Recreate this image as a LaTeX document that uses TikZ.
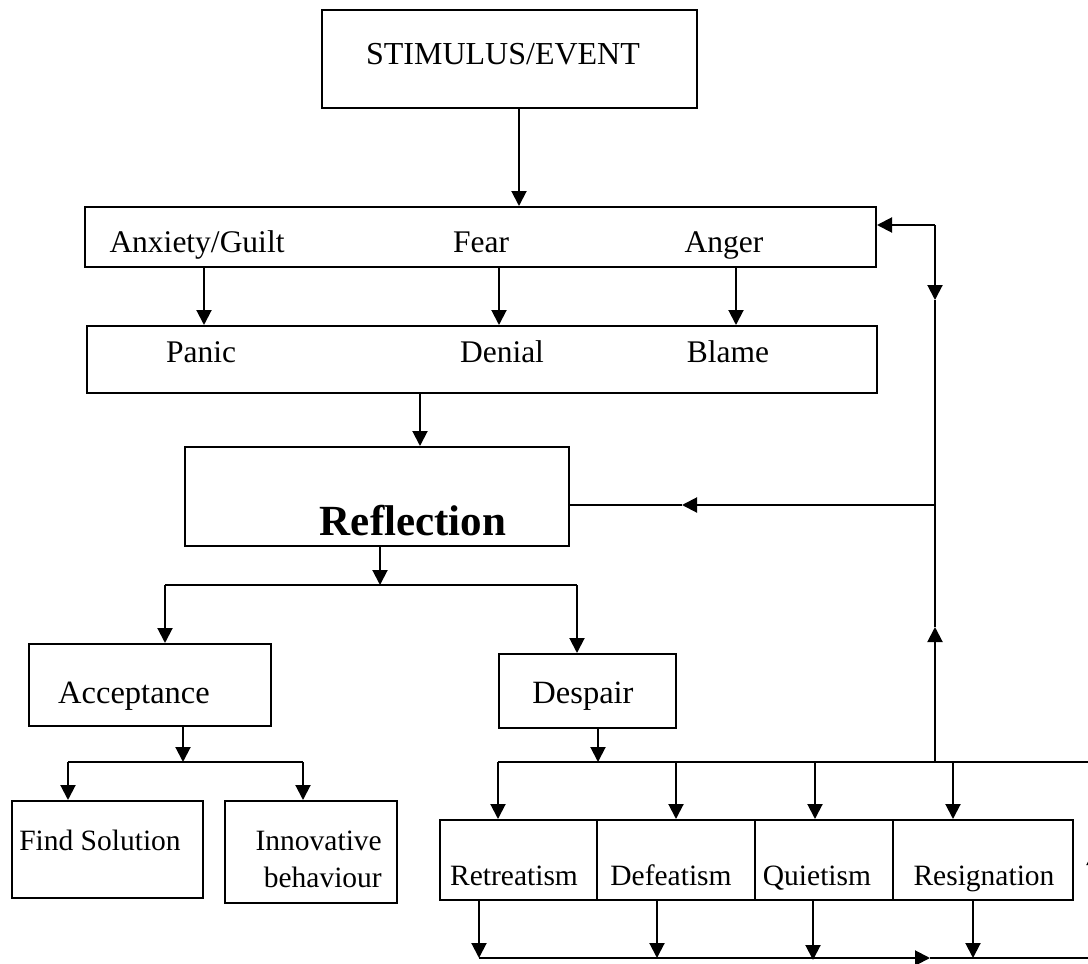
\documentclass[tikz,border=0pt]{standalone}
\usepackage{fontspec}
\setmainfont{Liberation Serif}
\usetikzlibrary{arrows.meta}
\begin{document}
\begin{tikzpicture}[x=1pt,y=-1pt,
  box/.style={draw,line width=2pt,inner sep=0pt},
  lbl/.style={font=\fontsize{29.5}{35}\selectfont,inner sep=0pt,anchor=base},
  lblm/.style={lbl,font=\fontsize{31.5}{37}\selectfont},
  lblb/.style={lbl,font=\fontsize{32.5}{38}\selectfont},
  arr/.style={line width=2pt,-{Triangle[length=15pt,width=15pt]}},
  ln/.style={line width=2pt}]
\useasboundingbox (0,0) rectangle (1088,964);
\clip (0,0) rectangle (1088,964);
% boxes
\node[box,minimum width=375pt,minimum height=98pt] (stim) at (509.5,59) {};
\node[box,minimum width=791pt,minimum height=60pt] (emo) at (480.5,237) {};
\node[box,minimum width=790pt,minimum height=67pt] (dfn) at (482,359.5) {};
\node[box,minimum width=384pt,minimum height=99pt] (refl) at (377,496.5) {};
\node[box,minimum width=242pt,minimum height=82pt] (acc) at (150,685) {};
\node[box,minimum width=177pt,minimum height=74pt] (desp) at (587.5,691) {};
\node[box,minimum width=191pt,minimum height=97pt] (find) at (107.5,849.5) {};
\node[box,minimum width=172pt,minimum height=102pt] (innov) at (311,852) {};
\node[box,minimum width=157pt,minimum height=80pt] (retr) at (518.5,860) {};
\node[box,minimum width=158pt,minimum height=80pt] (defe) at (676,860) {};
\node[box,minimum width=138pt,minimum height=80pt] (quie) at (824,860) {};
\node[box,minimum width=180pt,minimum height=80pt] (resi) at (983,860) {};
% labels
\node[lbl,font=\fontsize{32}{38}\selectfont] (tstim) at (503,64) {STIMULUS/EVENT};
\node[lblm] (tanx) at (197,252) {Anxiety/Guilt};
\node[lblm] (tfear) at (481,252) {Fear};
\node[lblm] (tang) at (724,252) {Anger};
\node[lblm] (tpan) at (201,362) {Panic};
\node[lblm] (tden) at (502,362) {Denial};
\node[lblm] (tbla) at (728,362) {Blame};
\node[lbl,font=\bfseries\fontsize{43}{50}\selectfont] (tref) at (413,535) {Reflection};
\node[lblb] (tacc) at (134,703) {Acceptance};
\node[lblb] (tdes) at (583,703) {Despair};
\node[lbl] (tfind) at (100,850) {Find Solution};
\node[lbl,anchor=base east] (tinn1) at (382,850) {Innovative};
\node[lbl,anchor=base east] (tinn2) at (382,887) {behaviour};
\node[lbl] (tret) at (514,885) {Retreatism};
\node[lbl] (tdef) at (671,885) {Defeatism};
\node[lbl] (tqui) at (817,885) {Quietism};
\node[lbl] (tres) at (984,885) {Resignation};
% column coordinates
\coordinate (c1) at (519,0);
\coordinate (c2) at (204,0);
\coordinate (c3) at (499,0);
\coordinate (c4) at (736,0);
\coordinate (c5) at (420,0);
\coordinate (c6) at (380,0);
% top chain
\draw[arr] (stim.south -| c1) -- (emo.north -| c1);
\draw[arr] (emo.south -| c2) -- (dfn.north -| c2);
\draw[arr] (emo.south -| c3) -- (dfn.north -| c3);
\draw[arr] (emo.south -| c4) -- (dfn.north -| c4);
\draw[arr] (dfn.south -| c5) -- (refl.north -| c5);
% reflection split
\coordinate (r0) at (380,585);
\coordinate (rl) at (165,585);
\coordinate (rr) at (577,585);
\draw[arr] (refl.south -| c6) -- (r0);
\draw[ln] (rl) -- (rr);
\draw[arr] (rl) -- (acc.north -| rl);
\draw[arr] (rr) -- (desp.north -| rr);
% acceptance split
\coordinate (a0) at (183,762);
\coordinate (al) at (68,762);
\coordinate (ar) at (303,762);
\draw[arr] (acc.south -| a0) -- (a0);
\draw[ln] (al) -- (ar);
\draw[arr] (al) -- (find.north -| al);
\draw[arr] (ar) -- (innov.north -| ar);
% despair split
\coordinate (d0) at (598,762);
\coordinate (d1) at (498,762);
\coordinate (d2) at (676,762);
\coordinate (d3) at (815,762);
\coordinate (d4) at (953,762);
\coordinate (dR) at (1094,762);
\draw[arr] (desp.south -| d0) -- (d0);
\draw[ln] (d1) -- (dR);
\draw[arr] (d1) -- (retr.north -| d1);
\draw[arr] (d2) -- (defe.north -| d2);
\draw[arr] (d3) -- (quie.north -| d3);
\draw[arr] (d4) -- (resi.north -| d4);
% bottom collector
\coordinate (b1) at (479,958);
\coordinate (b2) at (657,958);
\coordinate (b3) at (813,960);
\coordinate (b4) at (973,958);
\coordinate (bA) at (930,958);
\coordinate (bR) at (1094,958);
\coordinate (bU) at (1094,850);
\draw[arr] (retr.south -| b1) -- (b1);
\draw[arr] (defe.south -| b2) -- (b2);
\draw[arr] (quie.south -| b3) -- (b3);
\draw[arr] (resi.south -| b4) -- (b4);
\draw[arr] (b1) -- (bA);
\draw[ln] (bA) -- (bR);
\draw[arr] (bR) -- (bU);
\draw[ln] (bU) -- (dR);
% feedback loop
\coordinate (J1) at (935,762);
\coordinate (U1) at (935,627);
\coordinate (J2) at (935,505);
\coordinate (D1) at (935,300);
\coordinate (T) at (935,225);
\coordinate (L1) at (682,505);
\draw[arr] (J1) -- (U1);
\draw[ln] (U1) -- (J2);
\draw[arr] (T) -- (D1);
\draw[ln] (D1) -- (J2);
\draw[arr] (T) -- (emo.east |- T);
\draw[arr] (J2) -- (L1);
\draw[ln] (L1) -- (refl.east |- L1);
\end{tikzpicture}
\end{document}
